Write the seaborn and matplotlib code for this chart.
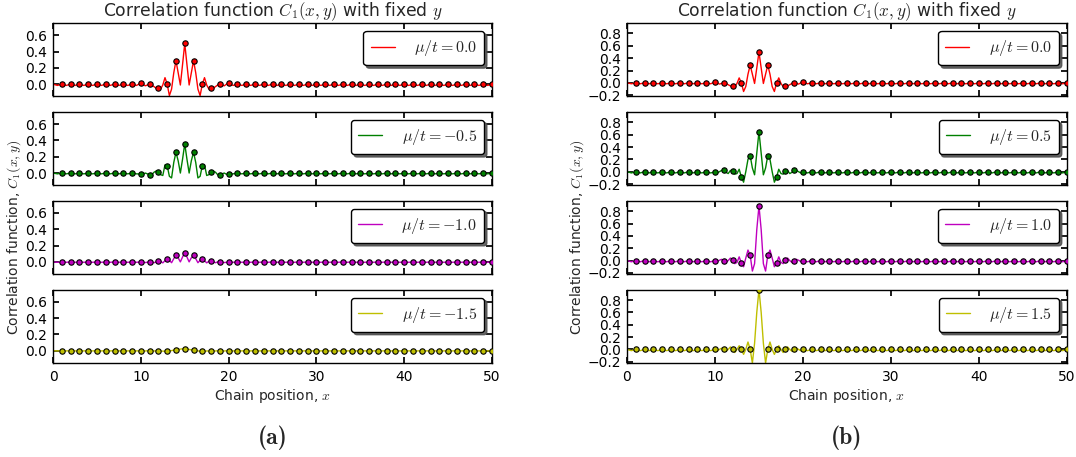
import numpy as np
import pandas as pd
import matplotlib
matplotlib.use("Agg")
import matplotlib.pyplot as plt
import seaborn as sns

# chain positions of the dots
pos = np.arange(1, 51)
# knots of the drawn curve in the central region (x = 10 .. 20, step 0.25)
center_x = np.arange(10, 20.01, 0.25)

# ---- left column (a): mu/t = 0.0, -0.5, -1.0, -1.5
mu_a = ["0.0", "-0.5", "-1.0", "-1.5"]
dots_a0 = [0] * 9 + [0.012, 0, -0.044, 0, 0.288, 0.5, 0.288, 0, -0.044, 0, 0.012] + [0] * 30
dots_a1 = [0] * 9 + [-0.012, -0.025, 0.01, 0.09, 0.255, 0.358, 0.255, 0.09, 0.01, -0.025, -0.012] + [0] * 30
dots_a2 = [0] * 9 + [0, 0.004, 0.016, 0.037, 0.082, 0.115, 0.082, 0.037, 0.016, 0.004, 0] + [0] * 30
dots_a3 = [0] * 9 + [0, 0, 0, -0.005, 0.012, 0.025, 0.008, -0.005, 0, 0, 0] + [0] * 30

curve_a0 = [0.012, 0.0, -0.02, -0.01, 0.0, -0.01, -0.03, -0.05, -0.044, -0.06, -0.01, 0.08,
            0.0, -0.14, -0.06, 0.14, 0.288, 0.14, -0.01, 0.24, 0.5, 0.24, -0.01, 0.14,
            0.288, 0.14, -0.06, -0.14, 0.0, 0.08, -0.01, -0.06, -0.044, -0.05, -0.03, -0.01,
            0.0, -0.01, -0.02, 0.0, 0.012]
curve_a1 = [-0.012, -0.015, 0.0, -0.01, -0.025, -0.02, 0.01, 0.025, 0.01, -0.02, -0.03, 0.1,
            0.09, -0.04, -0.06, 0.13, 0.255, 0.15, 0.0, 0.17, 0.358, 0.17, 0.0, 0.15,
            0.255, 0.13, -0.06, -0.04, 0.09, 0.1, -0.03, -0.02, 0.01, 0.025, 0.01, -0.02,
            -0.025, -0.01, 0.0, -0.015, -0.012]
curve_a2 = [0.0, -0.005, -0.008, -0.004, 0.004, 0.0, -0.01, 0.0, 0.016, 0.008, -0.012, 0.015,
            0.037, 0.02, -0.01, 0.04, 0.082, 0.05, 0.0, 0.06, 0.115, 0.06, 0.0, 0.05,
            0.082, 0.04, -0.01, 0.02, 0.037, 0.015, -0.012, 0.008, 0.016, 0.0, -0.01, 0.0,
            0.004, -0.004, -0.008, -0.005, 0.0]
curve_a3 = [0.0, 0.0, -0.003, 0.0, 0.0, 0.0, -0.003, 0.0, 0.0, -0.002, -0.005, -0.005,
            -0.005, -0.003, 0.002, 0.008, 0.012, 0.016, 0.02, 0.024, 0.025, 0.022, 0.016, 0.011,
            0.008, 0.003, -0.002, -0.005, -0.005, -0.004, -0.003, -0.002, 0.0, 0.0, -0.003, 0.0,
            0.0, 0.0, -0.003, 0.0, 0.0]
ripple_a = [-0.015, -0.01, -0.005, -0.002]

# ---- right column (b): mu/t = 0.0, 0.5, 1.0, 1.5
mu_b = ["0.0", "0.5", "1.0", "1.5"]
dots_b0 = [0] * 9 + [0.012, 0, -0.044, 0, 0.288, 0.5, 0.288, 0, -0.044, 0, 0.012] + [0] * 30
dots_b1 = [0] * 9 + [-0.005, 0.02, 0.01, -0.087, 0.26, 0.65, 0.26, -0.087, 0.01, 0.02, -0.005] + [0] * 30
dots_b2 = [0] * 9 + [0, -0.01, 0.016, -0.04, 0.087, 0.886, 0.087, -0.04, 0.016, -0.01, 0] + [0] * 30
dots_b3 = [0] * 9 + [0, 0, 0, 0, 0, 0.97, 0, 0, 0, 0, 0] + [0] * 30

curve_b0 = list(curve_a0)
curve_b1 = [-0.005, -0.02, 0.0, 0.02, 0.02, -0.01, -0.03, 0.02, 0.01, -0.04, -0.03, 0.04,
            -0.087, -0.17, 0.0, 0.2, 0.26, 0.06, -0.05, 0.3, 0.65, 0.3, -0.05, 0.06,
            0.26, 0.2, 0.0, -0.17, -0.087, 0.04, -0.03, -0.04, 0.01, 0.02, -0.03, -0.01,
            0.02, 0.02, 0.0, -0.02, -0.005]
curve_b2 = [0.0, -0.015, 0.005, 0.02, -0.01, -0.03, 0.0, 0.04, 0.016, -0.05, -0.03, 0.06,
            -0.04, -0.1, 0.04, 0.17, 0.087, -0.17, -0.05, 0.5, 0.886, 0.5, -0.05, -0.17,
            0.087, 0.17, 0.04, -0.1, -0.04, 0.06, -0.03, -0.05, 0.016, 0.04, 0.0, -0.03,
            -0.01, 0.02, 0.005, -0.015, 0.0]
curve_b3 = [0.0, -0.02, 0.0, 0.02, 0.0, -0.03, 0.0, 0.04, 0.0, -0.05, 0.0, 0.06,
            0.0, -0.08, 0.0, 0.12, 0.0, -0.22, 0.1, 0.6, 0.97, 0.6, 0.1, -0.22,
            0.0, 0.12, 0.0, -0.08, 0.0, 0.06, 0.0, -0.05, 0.0, 0.04, 0.0, -0.03,
            0.0, 0.02, 0.0, -0.02, 0.0]
ripple_b = [-0.015, -0.02, -0.02, -0.02]

colors = ["#ff0000", "#008000", "#bf00bf", "#bfbf00"]


def build_curve(dots, center, ripple):
    # far field: curve passes through the dots, with a small dip between them
    full = np.concatenate([[0.0], dots])
    xs = np.arange(0, 50.01, 0.5)
    ys = np.where(xs % 1 == 0, full[np.floor(xs).astype(int)], ripple)
    keep = (xs < 10) | (xs > 20)
    df = pd.DataFrame({"x": np.concatenate([xs[keep], center_x]),
                       "y": np.concatenate([ys[keep], center])})
    return df.sort_values("x")


sns.set_theme(style="white")
plt.rcParams.update({
    "font.family": ["DejaVu Sans"],
    "mathtext.fontset": "cm",
    "axes.edgecolor": "black",
    "axes.linewidth": 1.0,
    "xtick.direction": "in",
    "ytick.direction": "in",
    "xtick.top": True,
    "ytick.right": True,
    "xtick.bottom": True,
    "ytick.left": True,
    "xtick.major.size": 4,
    "ytick.major.size": 4,
    "xtick.major.pad": 5,
    "ytick.major.pad": 4,
    "xtick.color": "black",
    "ytick.color": "black",
    "xtick.labelsize": 10,
    "ytick.labelsize": 10,
})

fig = plt.figure(figsize=(10.76, 4.57), dpi=100)
gs_a = fig.add_gridspec(4, 1, left=0.0493, right=0.4573, top=0.9497, bottom=0.2057, hspace=0.21)
gs_b = fig.add_gridspec(4, 1, left=0.5827, right=0.9916, top=0.9497, bottom=0.2057, hspace=0.21)

columns = [
    (gs_a, mu_a, [dots_a0, dots_a1, dots_a2, dots_a3], [curve_a0, curve_a1, curve_a2, curve_a3],
     ripple_a, (-0.15, 0.75), [0.0, 0.2, 0.4, 0.6], "(a)", -0.068),
    (gs_b, mu_b, [dots_b0, dots_b1, dots_b2, dots_b3], [curve_b0, curve_b1, curve_b2, curve_b3],
     ripple_b, (-0.22, 0.97), [-0.2, 0.0, 0.2, 0.4, 0.6, 0.8], "(b)", -0.093),
]

for gs, mus, dots_list, curves, ripples, ylim, yticks, caption, label_x in columns:
    axes = []
    for i in range(4):
        ax = fig.add_subplot(gs[i])
        axes.append(ax)
        curve = build_curve(np.array(dots_list[i], dtype=float), np.array(curves[i]), ripples[i])
        sns.lineplot(data=curve, x="x", y="y", ax=ax, color=colors[i], linewidth=1.0,
                     label=r"$\mu/t=%s$" % mus[i])
        sns.scatterplot(x=pos, y=dots_list[i], ax=ax, color=colors[i], edgecolor="black",
                        s=15, linewidth=0.8, zorder=3, legend=False)
        ax.set_xlim(0, 50)
        ax.set_ylim(*ylim)
        ax.set_xticks([0, 10, 20, 30, 40, 50])
        ax.set_yticks(yticks)
        ax.set_xlabel("")
        ax.set_ylabel("")
        if i < 3:
            ax.set_xticklabels([])
        leg = ax.legend(loc="upper right", fontsize=11.5, fancybox=True,
                        shadow={"alpha": 0.85}, framealpha=1, edgecolor="black",
                        handlelength=1.5, handletextpad=1.2, borderpad=0.45)
        leg.get_frame().set_linewidth(1.0)
    axes[0].set_title(r"Correlation function $C_1(x,y)$ with fixed $y$", fontsize=12.3, pad=4)
    axes[2].set_ylabel(r"Correlation function, $C_1(x,y)$", fontsize=10)
    axes[2].yaxis.set_label_coords(label_x, 0.5)
    axes[3].set_xlabel(r"Chain position, $x$", fontsize=10, labelpad=2)
    pos_box = axes[3].get_position()
    fig.text((pos_box.x0 + pos_box.x1) / 2, 0.042, caption, fontsize=17,
             family=["cmb10", "DejaVu Serif"], ha="center", va="center")

fig.savefig("out.png", dpi=100)
